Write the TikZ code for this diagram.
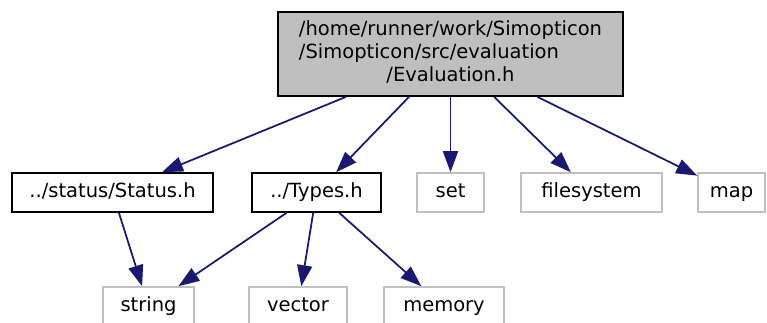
\documentclass[tikz,border=0pt]{standalone}
\usepackage{fontspec}
\setmainfont{DejaVu Sans}
\usetikzlibrary{arrows.meta}
\definecolor{edgeblue}{HTML}{191970}
\definecolor{boxgray}{HTML}{BFBFBF}
\tikzset{
    file/.style={draw, line width=0.9pt, minimum height=0.78cm,
                 inner sep=2pt, align=center},
    leaf/.style={file, text height=0.76em, text depth=0.22em},
    header/.style={leaf, draw=black},
    sysheader/.style={leaf, draw=boxgray},
    main/.style={file, fill=boxgray, minimum width=6.9cm, minimum height=1.68cm},
    include/.style={-{Triangle[length=0.42cm, width=0.3cm]}, line width=1pt,
                    draw=edgeblue, fill=edgeblue},
}

\begin{document}
\begin{tikzpicture}[font=\fontsize{11.1}{13.1}\selectfont]
    \path[use as bounding box] (0,0) rectangle (15.34,-6.44);

    \node[main] (evaluation) at (9.01,-1.08)
        {\begin{tabular}{@{}l@{}}/home/runner/work/Simopticon\\
         /Simopticon/src/evaluation\\
         \multicolumn{1}{@{}c@{}}{/Evaluation.h}\end{tabular}};

    \node[header, minimum width=4.02cm] (status) at (2.25,-3.85) {../status/Status.h};
    \node[header, minimum width=2.58cm] (types) at (6.33,-3.85) {../Types.h};
    \node[sysheader, minimum width=1.34cm] (set) at (9.01,-3.85) {set};
    \node[sysheader, minimum width=2.82cm] (filesystem) at (11.83,-3.85) {filesystem};
    \node[sysheader, minimum width=1.34cm] (map) at (14.63,-3.85) {map};

    \node[sysheader, minimum width=1.82cm] (string) at (2.97,-6.13) {string};
    \node[sysheader, minimum width=1.96cm] (vector) at (5.96,-6.13) {vector};
    \node[sysheader, minimum width=2.4cm] (memory) at (8.88,-6.13) {memory};

    \foreach \target in {status, types, set, filesystem, map}
        \draw[include] (evaluation) -- (\target);
    \draw[include] (status) -- (string);
    \foreach \target in {string, vector, memory}
        \draw[include] (types) -- (\target);
\end{tikzpicture}
\end{document}
